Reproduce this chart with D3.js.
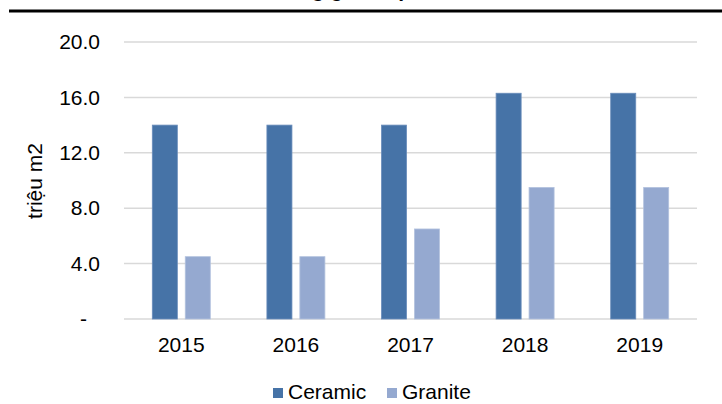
<!DOCTYPE html>
<html>
<head>
<meta charset="utf-8">
<script src="https://cdn.jsdelivr.net/npm/d3@7"></script>
<style>
body { margin: 0; background: #fff; }
svg { display: block; font-family: "Liberation Sans", Arial, sans-serif; }
</style>
</head>
<body>
<svg id="chart" width="722" height="404"></svg>
<script>
const years = ['2015', '2016', '2017', '2018', '2019'];
const ceramic = [14.0, 14.0, 14.0, 16.3, 16.3];
const granite = [4.5, 4.5, 6.5, 9.5, 9.5];
const tick_values = [0, 4, 8, 12, 16, 20];
const series_names = ['Ceramic', 'Granite'];
const series_colors = ['#4673a7', '#95a9d0'];

let svg = d3.select('#chart');
let plot_left = 124, plot_right = 697, plot_top = 42, plot_bottom = 319;
let font = '"Liberation Sans", Arial, sans-serif';

// title, cut off at the top edge like the source
svg.append('text')
    .attr('x', 330).attr('y', -3)
    .attr('text-anchor', 'middle')
    .attr('font-size', 21).attr('font-weight', 'bold')
    .text('Sản lượng gạch ốp lát');

svg.append('line')
    .attr('x1', 9).attr('x2', 722)
    .attr('y1', 11).attr('y2', 11)
    .attr('stroke', '#000').attr('stroke-width', 3);

let x = d3.scaleBand().domain(years).range([plot_left, plot_right]);
let x1 = d3.scaleBand().domain(series_names)
    .range([x.bandwidth() / 2 - 29, x.bandwidth() / 2 + 29])
    .paddingInner(0.24);
let y = d3.scaleLinear().domain([0, 20]).range([plot_bottom, plot_top]);

// gridlines
svg.append('g').selectAll('line')
    .data(tick_values)
    .enter().append('line')
    .attr('x1', plot_left).attr('x2', plot_right)
    .attr('y1', function (d) { return y(d); })
    .attr('y2', function (d) { return y(d); })
    .attr('stroke', '#d9d9d9').attr('stroke-width', 1.5);

// y axis labels
let yAxis = d3.axisLeft(y).tickValues(tick_values).tickSize(0).tickPadding(0)
    .tickFormat(function (d) { return d === 0 ? '-' : d3.format('.1f')(d); });
let ya = svg.append('g').attr('transform', 'translate(100,0)').call(yAxis);
ya.select('.domain').remove();
ya.selectAll('text').attr('font-size', 21).attr('fill', '#000').attr('font-family', font);
ya.selectAll('text').filter(function (d) { return d === 0; }).attr('dx', -13);

// x axis labels
let xAxis = d3.axisBottom(x).tickSize(0).tickPadding(18);
let xa = svg.append('g').attr('transform', 'translate(0,' + plot_bottom + ')').call(xAxis);
xa.select('.domain').remove();
xa.selectAll('text').attr('font-size', 21).attr('fill', '#000').attr('font-family', font);

// y title
svg.append('text')
    .attr('transform', 'translate(42,181) rotate(-90)')
    .attr('text-anchor', 'middle')
    .attr('font-size', 21)
    .text('triệu m2');

// bars
let rows = years.map(function (yr, i) {
    return { year: yr, values: [ceramic[i], granite[i]] };
});
let groups = svg.append('g').selectAll('g')
    .data(rows)
    .enter().append('g')
    .attr('transform', function (d) { return 'translate(' + x(d.year) + ',0)'; });
groups.selectAll('rect')
    .data(function (d) {
        return d.values.map(function (v, j) { return { name: series_names[j], value: v, j: j }; });
    })
    .enter().append('rect')
    .attr('x', function (d) { return x1(d.name); })
    .attr('width', x1.bandwidth())
    .attr('y', function (d) { return y(d.value); })
    .attr('height', function (d) { return y(0) - y(d.value); })
    .attr('fill', function (d) { return series_colors[d.j]; })
    .attr('stroke', function (d) { return d.j === 0 ? '#6a8dbb' : '#b3c2de'; })
    .attr('stroke-width', 0.8);

// legend
let legend = svg.append('g');
let legend_x = [273, 387];
series_names.forEach(function (name, i) {
    legend.append('rect')
        .attr('x', legend_x[i]).attr('y', 388)
        .attr('width', 10).attr('height', 10)
        .attr('fill', series_colors[i]);
    legend.append('text')
        .attr('x', legend_x[i] + 15).attr('y', 399)
        .attr('font-size', 21)
        .text(name);
});
</script>
</body>
</html>
